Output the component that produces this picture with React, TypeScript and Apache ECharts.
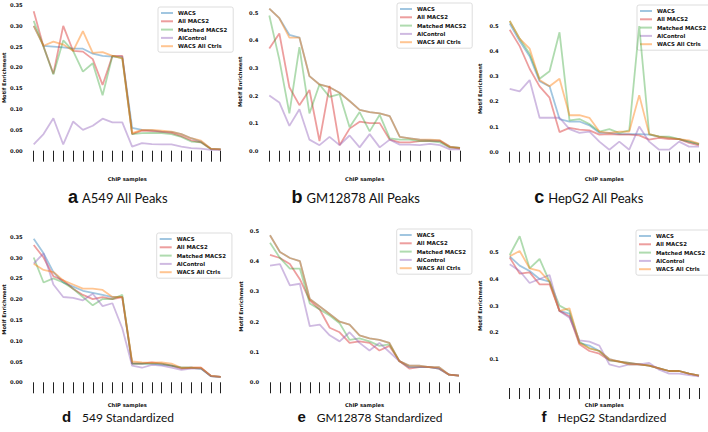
import React, { useEffect, useRef } from "react";
import * as echarts from "echarts";

// ---------- data ----------
const seriesNames = ["WACS", "All MACS2", "Matched MACS2", "AlControl", "WACS All Ctrls"];
const samples = ["1", "2", "3", "4", "5", "6", "7", "8", "9", "10", "11", "12", "13", "14", "15", "16", "17", "18", "19", "20"];

// a: A549 All Peaks
const aWACS = [0.300, 0.252, 0.250, 0.248, 0.245, 0.245, 0.233, 0.228, 0.226, 0.226, 0.055, 0.050, 0.049, 0.046, 0.045, 0.040, 0.030, 0.022, 0.005, 0.003];
const aMACS = [0.335, 0.250, 0.185, 0.300, 0.240, 0.238, 0.220, 0.158, 0.228, 0.228, 0.040, 0.048, 0.047, 0.045, 0.043, 0.035, 0.025, 0.020, 0.004, 0.003];
const aMatched = [0.312, 0.250, 0.183, 0.265, 0.240, 0.190, 0.210, 0.133, 0.228, 0.222, 0.040, 0.042, 0.043, 0.042, 0.040, 0.033, 0.022, 0.020, 0.004, 0.003];
const aCtrl = [0.015, 0.040, 0.078, 0.015, 0.070, 0.050, 0.060, 0.077, 0.068, 0.068, 0.010, 0.018, 0.016, 0.015, 0.015, 0.010, 0.006, 0.005, 0.002, 0.002];
const aAll = [0.300, 0.252, 0.262, 0.255, 0.240, 0.287, 0.235, 0.237, 0.228, 0.222, 0.042, 0.050, 0.050, 0.048, 0.046, 0.040, 0.030, 0.024, 0.005, 0.003];

// b: GM12878 All Peaks
const bWACS = [0.515, 0.480, 0.420, 0.410, 0.270, 0.240, 0.230, 0.210, 0.180, 0.148, 0.140, 0.135, 0.125, 0.050, 0.045, 0.040, 0.038, 0.036, 0.015, 0.010];
const bMACS = [0.370, 0.425, 0.230, 0.165, 0.220, 0.035, 0.235, 0.020, 0.080, 0.105, 0.100, 0.100, 0.040, 0.030, 0.030, 0.035, 0.035, 0.035, 0.012, 0.008];
const bMatched = [0.490, 0.330, 0.135, 0.375, 0.135, 0.240, 0.195, 0.205, 0.085, 0.140, 0.070, 0.130, 0.045, 0.040, 0.040, 0.035, 0.035, 0.030, 0.012, 0.010];
const bCtrl = [0.200, 0.175, 0.090, 0.150, 0.040, 0.020, 0.050, 0.020, 0.055, 0.012, 0.060, 0.012, 0.040, 0.022, 0.022, 0.020, 0.025, 0.020, 0.005, 0.005];
const bAll = [0.515, 0.480, 0.410, 0.410, 0.270, 0.240, 0.230, 0.210, 0.180, 0.148, 0.140, 0.135, 0.125, 0.050, 0.045, 0.040, 0.040, 0.038, 0.015, 0.010];

// c: HepG2 All Peaks
const cWACS = [0.510, 0.440, 0.380, 0.280, 0.260, 0.130, 0.120, 0.120, 0.105, 0.075, 0.075, 0.070, 0.070, 0.070, 0.068, 0.060, 0.055, 0.050, 0.040, 0.030];
const cMACS = [0.485, 0.420, 0.330, 0.260, 0.215, 0.078, 0.095, 0.088, 0.085, 0.068, 0.070, 0.068, 0.068, 0.065, 0.048, 0.055, 0.050, 0.050, 0.035, 0.025];
const cMatched = [0.520, 0.450, 0.390, 0.290, 0.320, 0.475, 0.125, 0.130, 0.110, 0.080, 0.090, 0.075, 0.085, 0.500, 0.070, 0.060, 0.060, 0.050, 0.040, 0.030];
const cCtrl = [0.250, 0.240, 0.285, 0.135, 0.135, 0.135, 0.090, 0.075, 0.080, 0.040, 0.008, 0.040, 0.008, 0.100, 0.040, 0.008, 0.008, 0.040, 0.020, 0.020];
const cAll = [0.520, 0.450, 0.410, 0.285, 0.260, 0.290, 0.145, 0.145, 0.135, 0.080, 0.075, 0.080, 0.080, 0.225, 0.070, 0.060, 0.055, 0.050, 0.045, 0.032];

// d: A549 Standardized
const dWACS = [0.345, 0.310, 0.265, 0.240, 0.230, 0.220, 0.215, 0.210, 0.205, 0.205, 0.045, 0.045, 0.045, 0.042, 0.040, 0.035, 0.035, 0.033, 0.015, 0.013];
const dMACS = [0.330, 0.300, 0.255, 0.245, 0.225, 0.210, 0.200, 0.205, 0.200, 0.205, 0.045, 0.045, 0.048, 0.045, 0.040, 0.033, 0.035, 0.035, 0.015, 0.013];
const dMatched = [0.300, 0.240, 0.250, 0.240, 0.225, 0.205, 0.185, 0.200, 0.200, 0.210, 0.045, 0.045, 0.045, 0.045, 0.040, 0.035, 0.035, 0.033, 0.015, 0.013];
const dCtrl = [0.285, 0.310, 0.235, 0.205, 0.203, 0.197, 0.213, 0.183, 0.190, 0.130, 0.040, 0.035, 0.042, 0.040, 0.035, 0.030, 0.033, 0.033, 0.015, 0.013];
const dAll = [0.285, 0.270, 0.265, 0.245, 0.235, 0.225, 0.225, 0.222, 0.205, 0.205, 0.050, 0.048, 0.047, 0.048, 0.045, 0.035, 0.035, 0.035, 0.016, 0.013];

// e: GM12878 Standardized
const eWACS = [0.485, 0.430, 0.410, 0.400, 0.275, 0.250, 0.225, 0.200, 0.190, 0.155, 0.145, 0.140, 0.130, 0.070, 0.055, 0.055, 0.050, 0.050, 0.025, 0.022];
const eMACS = [0.420, 0.410, 0.390, 0.340, 0.270, 0.240, 0.180, 0.165, 0.130, 0.135, 0.130, 0.105, 0.120, 0.070, 0.045, 0.050, 0.050, 0.045, 0.025, 0.022];
const eMatched = [0.460, 0.410, 0.375, 0.375, 0.260, 0.240, 0.220, 0.195, 0.140, 0.145, 0.135, 0.120, 0.125, 0.070, 0.050, 0.050, 0.050, 0.045, 0.025, 0.022];
const eCtrl = [0.385, 0.390, 0.320, 0.325, 0.185, 0.190, 0.155, 0.135, 0.165, 0.130, 0.105, 0.130, 0.100, 0.070, 0.050, 0.050, 0.050, 0.045, 0.025, 0.022];
const eAll = [0.485, 0.430, 0.410, 0.400, 0.275, 0.250, 0.225, 0.200, 0.190, 0.155, 0.145, 0.140, 0.130, 0.070, 0.055, 0.055, 0.050, 0.050, 0.025, 0.022];

// f: HepG2 Standardized
const fWACS = [0.485, 0.450, 0.430, 0.400, 0.390, 0.280, 0.270, 0.160, 0.150, 0.130, 0.100, 0.090, 0.080, 0.080, 0.075, 0.065, 0.055, 0.055, 0.045, 0.038];
const fMACS = [0.480, 0.420, 0.425, 0.380, 0.380, 0.280, 0.260, 0.155, 0.130, 0.120, 0.095, 0.090, 0.085, 0.080, 0.075, 0.065, 0.055, 0.055, 0.045, 0.038];
const fMatched = [0.490, 0.560, 0.440, 0.475, 0.390, 0.300, 0.280, 0.165, 0.140, 0.130, 0.095, 0.090, 0.085, 0.080, 0.075, 0.065, 0.055, 0.055, 0.045, 0.038];
const fCtrl = [0.455, 0.430, 0.385, 0.400, 0.415, 0.280, 0.255, 0.170, 0.165, 0.150, 0.080, 0.070, 0.080, 0.080, 0.085, 0.060, 0.045, 0.045, 0.040, 0.035];
const fAll = [0.485, 0.505, 0.440, 0.430, 0.390, 0.280, 0.290, 0.160, 0.140, 0.130, 0.100, 0.090, 0.080, 0.080, 0.075, 0.065, 0.055, 0.055, 0.045, 0.038];

const panelData = [
  [aWACS, aMACS, aMatched, aCtrl, aAll],
  [bWACS, bMACS, bMatched, bCtrl, bAll],
  [cWACS, cMACS, cMatched, cCtrl, cAll],
  [dWACS, dMACS, dMatched, dCtrl, dAll],
  [eWACS, eMACS, eMatched, eCtrl, eAll],
  [fWACS, fMACS, fMatched, fCtrl, fAll],
];

const panelLetters = ["a", "b", "c", "d", "e", "f"];
const panelTitles = ["A549 All Peaks", "GM12878 All Peaks", "HepG2 All Peaks", "549 Standardized", "GM12878 Standardized", "HepG2 Standardized"];

// ---------- layout / styles ----------
const colors = [
  "rgba(31,119,180,0.42)",
  "rgba(214,39,40,0.45)",
  "rgba(44,160,44,0.38)",
  "rgba(148,103,189,0.45)",
  "rgba(255,127,14,0.45)",
];

const layouts = [
  { grid: { left: 33.3, top: 5, width: 187.4, height: 145.7 }, yMin: 0, yMax: 0.35, yStep: 0.05, dec: 2, xOffset: 11.3, legend: { left: 158, top: 7 }, tCenter: 118, row: 0 },
  { grid: { left: 269.3, top: 12.7, width: 190.7, height: 138 }, yMin: 0, yMax: 0.5, yStep: 0.1, dec: 1, xOffset: 11.3, legend: { left: 397, top: 3 }, tCenter: 356, row: 0 },
  { grid: { left: 509.7, top: 26, width: 189.3, height: 125.7 }, yMin: 0, yMax: 0.5, yStep: 0.1, dec: 1, xOffset: 10.3, legend: { left: 637, top: 5 }, tCenter: 589, row: 0 },
  { grid: { left: 33.3, top: 236.7, width: 187.4, height: 145.6 }, yMin: 0, yMax: 0.35, yStep: 0.05, dec: 2, xOffset: 5.7, legend: { left: 156.7, top: 233 }, tCenter: 118, row: 1 },
  { grid: { left: 270, top: 230.7, width: 189, height: 151.6 }, yMin: 0, yMax: 0.5, yStep: 0.1, dec: 1, xOffset: 5.7, legend: { left: 396.7, top: 229 }, tCenter: 370, row: 1 },
  { grid: { left: 509.7, top: 252.3, width: 189.3, height: 106.7 }, yMin: 0.1, yMax: 0.5, yStep: 0.1, dec: 1, xOffset: 29, legend: { left: 636, top: 230 }, tCenter: 604, row: 1 },
];

const smallFont = { fontFamily: "DejaVu Sans", fontWeight: "bold" as const, fontSize: 5.2, color: "#111" };

const titleRows = [
  { letterSize: 18, textSize: 13, gap: 4, yLetter: 196.5, yText: 197.5 },
  { letterSize: 15, textSize: 12, gap: 11, yLetter: 416.7, yText: 417.8 },
];

function measure(text: string, font: string): number {
  const c = document.createElement("canvas").getContext("2d");
  if (!c) return text.length * 7;
  c.font = font;
  return c.measureText(text).width;
}

export default function App() {
  const ref = useRef<HTMLDivElement>(null);

  useEffect(() => {
    if (!ref.current) return;
    const chart = echarts.init(ref.current, null, { renderer: "svg", width: 708, height: 432 });

    const series: any[] = [];
    panelData.forEach((arrs, pi) => {
      arrs.forEach((vals, si) => {
        series.push({
          type: "line",
          name: seriesNames[si],
          xAxisIndex: pi,
          yAxisIndex: pi,
          data: vals,
          symbol: "none",
          clip: false,
          lineStyle: { color: colors[si], width: 1.8 },
          itemStyle: { color: colors[si] },
          z: 2 + si,
        });
      });
    });

    const graphic: any[] = [];
    layouts.forEach((l, i) => {
      const tr = titleRows[l.row];
      const lw = measure(panelLetters[i], `bold ${tr.letterSize}px "Liberation Sans"`);
      const tw = measure(panelTitles[i], `${tr.textSize}px Lato`);
      const total = lw + tr.gap + tw;
      const start = l.tCenter - total / 2;
      graphic.push({
        type: "text",
        x: start,
        y: tr.yLetter,
        style: {
          text: panelLetters[i],
          fontFamily: "Liberation Sans",
          fontWeight: "bold",
          fontSize: tr.letterSize,
          fill: "#111",
          textAlign: "left",
          textVerticalAlign: "middle",
        },
      });
      graphic.push({
        type: "text",
        x: start + lw + tr.gap,
        y: tr.yText,
        style: {
          text: panelTitles[i],
          fontFamily: "Lato",
          fontSize: tr.textSize,
          fill: "#111",
          textAlign: "left",
          textVerticalAlign: "middle",
        },
      });
    });

    const option: any = {
      animation: false,
      backgroundColor: "#fff",
      grid: layouts.map((l) => ({ ...l.grid, containLabel: false })),
      xAxis: layouts.map((l, i) => ({
        type: "category",
        gridIndex: i,
        data: samples,
        boundaryGap: false,
        offset: l.xOffset,
        axisLine: { show: false },
        axisTick: { show: true, interval: 0, length: 11, lineStyle: { color: "#222", width: 1 } },
        axisLabel: { show: false },
        splitLine: { show: false },
        name: "ChIP samples",
        nameLocation: "middle",
        nameGap: 14,
        nameTextStyle: { ...smallFont },
      })),
      yAxis: layouts.map((l, i) => ({
        type: "value",
        gridIndex: i,
        min: l.yMin,
        max: l.yMax,
        interval: l.yStep,
        axisLine: { show: false },
        axisTick: { show: false },
        splitLine: { show: false },
        axisLabel: { ...smallFont, margin: 11, formatter: (v: number) => v.toFixed(l.dec) },
        name: "Motif Enrichment",
        nameLocation: "middle",
        nameRotate: 90,
        nameGap: 27,
        nameTextStyle: { ...smallFont },
      })),
      legend: layouts.map((l) => ({
        data: seriesNames,
        orient: "vertical",
        left: l.legend.left,
        top: l.legend.top,
        icon: "rect",
        itemWidth: 12,
        itemHeight: 2,
        itemGap: 2.3,
        padding: [3, 6, 3, 3],
        selectedMode: false,
        textStyle: { ...smallFont, fontSize: 5.4, lineHeight: 6 },
        backgroundColor: "rgba(255,255,255,0.85)",
        borderColor: "#d4d4d4",
        borderWidth: 0.8,
        borderRadius: 2,
      })),
      series,
      graphic,
    };

    chart.setOption(option);
    return () => chart.dispose();
  }, []);

  return <div ref={ref} style={{ position: "fixed", left: 0, top: 0, width: 708, height: 432, background: "#fff" }} />;
}
